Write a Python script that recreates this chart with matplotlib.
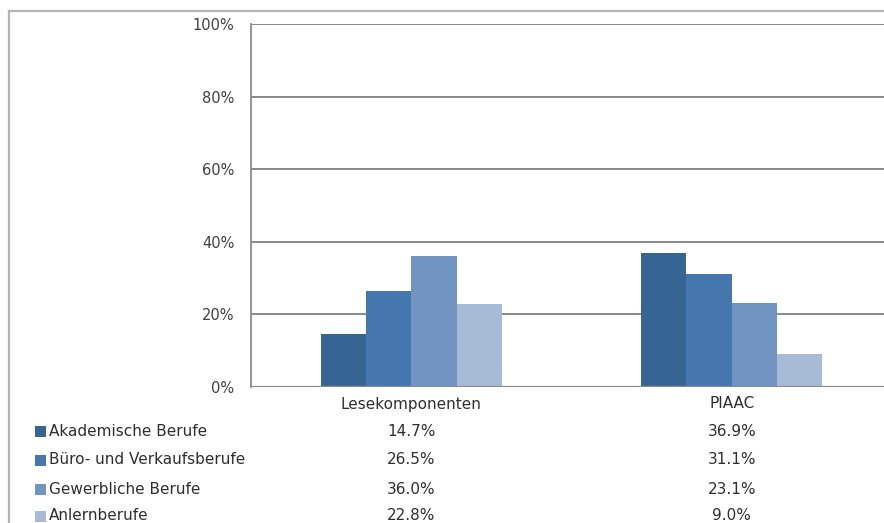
import matplotlib
matplotlib.use("Agg")
import matplotlib.pyplot as plt
from matplotlib.patches import Rectangle
from matplotlib.lines import Line2D
from matplotlib.transforms import blended_transform_factory
import numpy as np

categories = ["Lesekomponenten", "PIAAC"]
series_names = ["Akademische Berufe", "Büro- und Verkaufsberufe",
                "Gewerbliche Berufe", "Anlernberufe"]
akademisch = [14.7, 36.9]
buero = [26.5, 31.1]
gewerblich = [36.0, 23.1]
anlern = [22.8, 9.0]
yticks = [0, 20, 40, 60, 80, 100]
ytick_labels = ["0%", "20%", "40%", "60%", "80%", "100%"]

series_values = [akademisch, buero, gewerblich, anlern]
colors = ["#366593", "#4577ae", "#7294c1", "#a7bbd6"]

W, H = 884, 523
fig = plt.figure(figsize=(W / 100, H / 100), dpi=100)
fig.patch.set_facecolor("white")

font = ["DejaVu Sans"]

# outer chart frame (left and top edges)
frame_col = "#b4b4b4"
fig.add_artist(Line2D([9 / W, 9 / W], [0, 1 - 11 / H], transform=fig.transFigure,
                      color=frame_col, lw=1.6))
fig.add_artist(Line2D([9 / W, 1], [1 - 11 / H, 1 - 11 / H], transform=fig.transFigure,
                      color=frame_col, lw=1.6))

left, right, top, bottom = 251, 892, 24, 387
ax = fig.add_axes([left / W, 1 - bottom / H, (right - left) / W, (bottom - top) / H])

x = np.arange(len(categories))
bw = 0.1414
for i, (vals, c) in enumerate(zip(series_values, colors)):
    ax.bar(x + (i - 1.5) * bw, vals, width=bw, color=c, linewidth=0, zorder=3)

ax.set_xlim(-0.5, 1.5)
ax.set_ylim(0, 100)
ax.set_yticks(yticks)
ax.set_yticklabels(ytick_labels, fontsize=10.5, color="#404040", family=font)
ax.set_xticks([])
ax.tick_params(axis="y", length=0, pad=12)
ax.grid(axis="y", color="#8a8a8a", lw=1.4, zorder=0)
ax.set_axisbelow(True)
for s in ["top", "right", "bottom"]:
    ax.spines[s].set_visible(False)
ax.spines["left"].set_color("#8a8a8a")
ax.spines["left"].set_linewidth(1.3)
ax.axhline(0, color="#8a8a8a", lw=1.6, zorder=4)
ax.axhline(100, color="#8a8a8a", lw=1.4, zorder=4)

# data table below the plot
tr = blended_transform_factory(ax.transData, fig.transFigure)
txt_col = "#2e2e2e"
fs = 11
for j, cat in enumerate(categories):
    ax.text(x[j], 1 - 404 / H, cat, transform=tr, ha="center", va="center",
            fontsize=fs, family=font, color=txt_col, clip_on=False)

row_y = [431, 460, 489, 516]
for i, (name, vals, c) in enumerate(zip(series_names, series_values, colors)):
    yy = 1 - row_y[i] / H
    fig.add_artist(Rectangle((35 / W, yy - 5.5 / H), 11 / W, 11 / H,
                             transform=fig.transFigure, facecolor=c, edgecolor="none"))
    fig.text(49 / W, yy, name, ha="left", va="center", fontsize=fs,
             family=font, color=txt_col)
    for j, v in enumerate(vals):
        ax.text(x[j], yy, f"{v:.1f}%", transform=tr, ha="center", va="center",
                fontsize=fs, family=font, color=txt_col, clip_on=False)

fig.savefig("out.png", dpi=100)
